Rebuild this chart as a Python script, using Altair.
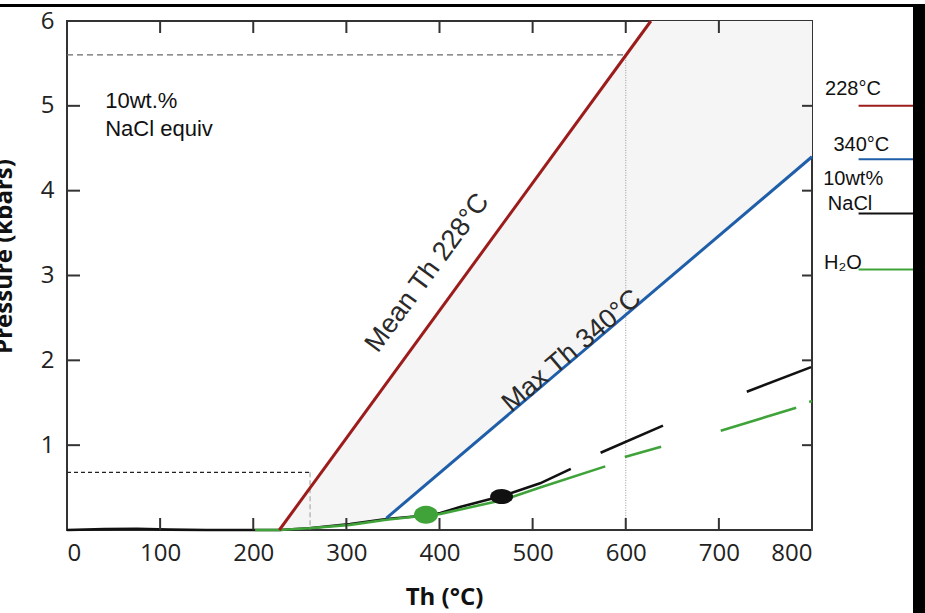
import altair as alt
import pandas as pd

# ---------------- data ----------------
x_tick_values = [0, 100, 200, 300, 400, 500, 600, 700, 800]
y_tick_values = [1, 2, 3, 4, 5, 6]
inner_x_ticks = [100, 200, 300, 400, 500, 600, 700]
inner_y_ticks = [1, 2, 3, 4, 5]

# isochores (Th in degC, pressure in kbar)
red_T = [228, 627]
red_P = [0.0, 6.0]
blue_T = [343, 800]
blue_P = [0.14, 4.4]

# 10 wt% NaCl curve (broken into segments)
black_T = [0, 40, 75, 110, 150, 228, 260, 304, 343, 385, 401, 422, 467, 508, 541,
           573, 640,
           730, 799]
black_P = [0.0, 0.01, 0.015, 0.005, 0.0, 0.0, 0.02, 0.07, 0.13, 0.17, 0.2, 0.27, 0.40, 0.55, 0.72,
           0.91, 1.23,
           1.63, 1.92]
black_seg = [0] * 15 + [1] * 2 + [2] * 2

# H2O curve (broken into segments)
green_T = [202, 228, 260, 304, 343, 385, 401, 467, 508, 578,
           599, 638,
           702, 783,
           797, 800]
green_P = [0.0, 0.0, 0.02, 0.06, 0.12, 0.17, 0.19, 0.35, 0.50, 0.75,
           0.86, 0.98,
           1.17, 1.44,
           1.51, 1.52]
green_seg = [0] * 10 + [1] * 2 + [2] * 2 + [3] * 2

# stippled field between the isochores
zone_T = [228, 304, 343, 627, 800]
zone_low = [0.0, 0.07, 0.14, 2.79, 4.4]
zone_high = [0.0, 1.14, 1.73, 6.0, 6.0]

# reference (dashed) lines
ref_T = [0, 600, 600, 600, 0, 261, 261, 261]
ref_P = [5.6, 5.6, 5.6, 0.0, 0.68, 0.68, 0.68, 0.0]
ref_id = ["top_h", "top_h", "top_v", "top_v", "low_h", "low_h", "low_v", "low_v"]

# inclusion points
pt_T = [385.5, 466.7]
pt_P = [0.18, 0.395]

# annotations
note_T = [41, 41]
note_P = [4.98, 4.65]
note_text = ["10wt.%", "NaCl equiv"]

mean_label = ["Mean Th 228°C"]
mean_T = [387]
mean_P = [3.03]
max_label = ["Max Th 340°C"]
max_T = [542]
max_P = [2.11]

# right-hand key
key_text = ["228°C", "340°C", "10wt%", "NaCl", "H₂O"]
key_text_T = [814, 823, 812, 817, 813]
key_text_P = [5.13, 4.47, 4.07, 3.77, 3.08]
key_line_names = ["228", "340", "nacl", "h2o"]
key_line_P = [5.0, 4.37, 3.73, 3.07]
key_line_T0 = [850, 850, 850, 850]
key_line_T1 = [915, 915, 915, 915]

RED = "#9c1c1c"
BLUE = "#1f5ea8"
BLACK = "#111111"
GREEN = "#3fa33a"

W, H = 745, 509

xscale = alt.Scale(domain=[0, 800], nice=False, zero=False)
yscale = alt.Scale(domain=[0, 6], nice=False, zero=False)

xaxis = alt.Axis(values=x_tick_values, title="Th (°C)", labelPadding=11,
                 titleX=377, titleY=74, titleBaseline="alphabetic", titleAlign="center",
                 titleAnchor="middle")
yaxis = alt.Axis(values=y_tick_values, title="Pressure (kbars)", labelPadding=13,
                 titleX=-56, titleY=235, titleAngle=270, titleBaseline="alphabetic",
                 titleAlign="center", titleAnchor="middle")


def X(field="T"):
    return alt.X(f"{field}:Q", scale=xscale, axis=xaxis)


def Y(field="P"):
    return alt.Y(f"{field}:Q", scale=yscale, axis=yaxis)


zone_df = pd.DataFrame({"T": zone_T, "P": zone_low, "P2": zone_high})
zone = alt.Chart(zone_df).mark_area(color="#f5f5f5", opacity=1).encode(
    x=X(), y=Y(), y2="P2:Q")

ref_df = pd.DataFrame({"T": ref_T, "P": ref_P, "id": ref_id})
ref_top_h = alt.Chart(ref_df[ref_df.id == "top_h"]).mark_line(
    color="#6a6a6a", strokeWidth=1.2, strokeDash=[6, 4]).encode(x=X(), y=Y())
ref_top_v = alt.Chart(ref_df[ref_df.id == "top_v"]).mark_line(
    color="#999999", strokeWidth=1, strokeDash=[1, 1.5]).encode(x=X(), y=Y())
ref_low_h = alt.Chart(ref_df[ref_df.id == "low_h"]).mark_line(
    color="#222222", strokeWidth=1.2, strokeDash=[4, 3]).encode(x=X(), y=Y())
ref_low_v = alt.Chart(ref_df[ref_df.id == "low_v"]).mark_line(
    color="#aaaaaa", strokeWidth=1.2, strokeDash=[5, 3]).encode(x=X(), y=Y())

black_df = pd.DataFrame({"T": black_T, "P": black_P, "seg": black_seg})
black = alt.Chart(black_df).mark_line(color=BLACK, strokeWidth=2.6).encode(
    x=X(), y=Y(), detail="seg:N", order="T:Q")

green_df = pd.DataFrame({"T": green_T, "P": green_P, "seg": green_seg})
green = alt.Chart(green_df).mark_line(color=GREEN, strokeWidth=2.6).encode(
    x=X(), y=Y(), detail="seg:N", order="T:Q")

red = alt.Chart(pd.DataFrame({"T": red_T, "P": red_P})).mark_line(
    color=RED, strokeWidth=3).encode(x=X(), y=Y())
blue = alt.Chart(pd.DataFrame({"T": blue_T, "P": blue_P})).mark_line(
    color=BLUE, strokeWidth=3).encode(x=X(), y=Y())

green_pt = alt.Chart(pd.DataFrame({"T": pt_T[:1], "P": pt_P[:1]})).mark_point(
    shape="M-1,0A1,0.75,0,1,1,1,0A1,0.75,0,1,1,-1,0Z", filled=True, size=576,
    color=GREEN, opacity=1).encode(x=X(), y=Y())
black_pt = alt.Chart(pd.DataFrame({"T": pt_T[1:], "P": pt_P[1:]})).mark_point(
    shape="M-1,0A1,0.66,0,1,1,1,0A1,0.66,0,1,1,-1,0Z", filled=True, size=529,
    color=BLACK, opacity=1).encode(x=X(), y=Y())

notes = alt.Chart(pd.DataFrame({"T": note_T, "P": note_P, "txt": note_text})).mark_text(
    font="Liberation Sans", fontSize=22, align="left", baseline="alphabetic",
    color="#111111").encode(x=X(), y=Y(), text="txt:N")

mean_txt = alt.Chart(pd.DataFrame({"T": mean_T, "P": mean_P, "txt": mean_label})).mark_text(
    font="Liberation Sans", fontSize=27, angle=306.4, align="center", baseline="middle",
    color="#2a2a2a").encode(x=X(), y=Y(), text="txt:N")
max_txt = alt.Chart(pd.DataFrame({"T": max_T, "P": max_P, "txt": max_label})).mark_text(
    font="Liberation Sans", fontSize=27, angle=319.6, align="center", baseline="middle",
    color="#2a2a2a").encode(x=X(), y=Y(), text="txt:N")

key_txt = alt.Chart(pd.DataFrame({"T": key_text_T, "P": key_text_P, "txt": key_text})).mark_text(
    font="Liberation Sans", fontSize=20, align="left", baseline="alphabetic",
    color="#111111").encode(x=X(), y=Y(), text="txt:N")

key_df = pd.DataFrame({"T": key_line_T0, "T2": key_line_T1, "P": key_line_P,
                       "name": key_line_names})
key_lines = alt.Chart(key_df).mark_rule(strokeWidth=2).encode(
    x=X(), x2="T2:Q", y=Y(),
    color=alt.Color("name:N", scale=alt.Scale(domain=key_line_names,
                                              range=[RED, BLUE, BLACK, GREEN]),
                    legend=None))

# inward-pointing frame ticks
xt_df = pd.DataFrame({"T": inner_x_ticks})
yt_df = pd.DataFrame({"P": inner_y_ticks})
tick_style = dict(color="#333333", strokeWidth=2)
bottom_ticks = alt.Chart(xt_df).mark_rule(**tick_style).encode(
    x=X(), y=alt.value(H), y2=alt.value(H - 12))
top_ticks = alt.Chart(xt_df).mark_rule(**tick_style).encode(
    x=X(), y=alt.value(0), y2=alt.value(12))
left_ticks = alt.Chart(yt_df).mark_rule(**tick_style).encode(
    y=Y(), x=alt.value(0), x2=alt.value(13))
right_ticks = alt.Chart(yt_df).mark_rule(**tick_style).encode(
    y=Y(), x=alt.value(W), x2=alt.value(W - 10))

# black border of the original picture
one = pd.DataFrame({"k": [0]})
top_bar = alt.Chart(one).mark_rect(color="#000000").encode(
    x=alt.value(-67), x2=alt.value(858), y=alt.value(-17), y2=alt.value(-14))
right_bar = alt.Chart(one).mark_rect(color="#000000").encode(
    x=alt.value(846), x2=alt.value(858), y=alt.value(-17), y2=alt.value(592))

chart = alt.layer(
    zone, ref_top_h, ref_top_v, ref_low_h, ref_low_v,
    black, green, red, blue, green_pt, black_pt,
    notes, mean_txt, max_txt, key_lines, key_txt,
    bottom_ticks, top_ticks, left_ticks, right_ticks,
    top_bar, right_bar,
).properties(
    width=W, height=H,
    autosize=alt.AutoSizeParams(type="none"),
    padding={"left": 67, "top": 21, "right": 113, "bottom": 83},
    background="white",
).configure_view(
    stroke="#333333", strokeWidth=2,
).configure_axis(
    labelFont="Open Sans", labelFontSize=24, labelColor="#222222",
    titleFont="Open Sans", titleFontSize=24, titleFontWeight="bold", titleColor="#111111",
    ticks=False, tickSize=0, domain=False, grid=False,
)

chart.save("out.html", embed_options={"renderer": "svg", "actions": False})
